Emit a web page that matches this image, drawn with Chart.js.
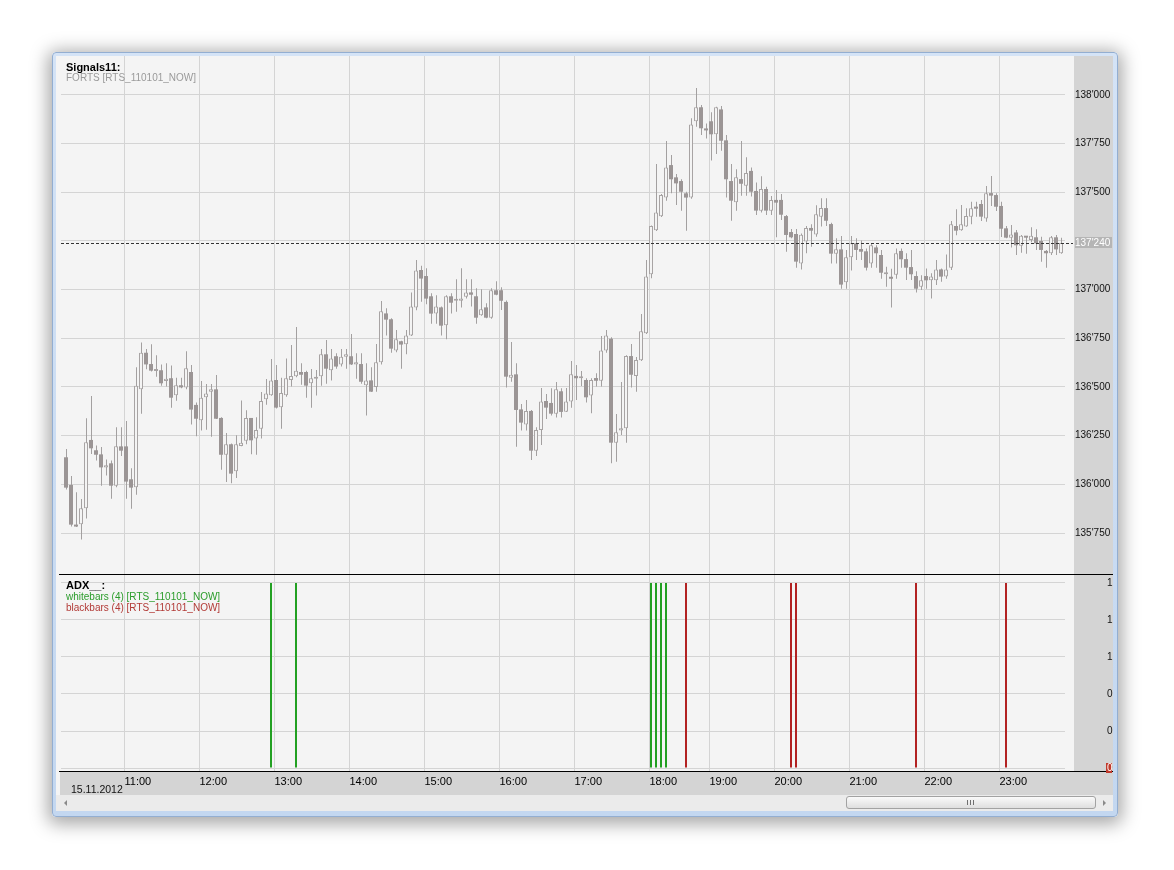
<!DOCTYPE html>
<html>
<head>
<meta charset="utf-8">
<title>Signals11</title>
<script src="https://cdn.jsdelivr.net/npm/chart.js@4.4.0/dist/chart.umd.min.js"></script>
<style>
  body { margin: 0; width: 1174px; height: 870px; background: #fff; position: relative; overflow: hidden;
         font-family: "Liberation Sans", Arial, sans-serif; }
  #frame { position: absolute; left: 52px; top: 52px; width: 1064px; height: 763px;
           border: 1px solid #93aed1; border-radius: 4px;
           background: linear-gradient(#d4e3f6, #c3d7f0);
           box-shadow: 0 3px 18px 4px rgba(0,0,0,.35); }
  #client { position: absolute; left: 56px; top: 56px; width: 1057px; height: 755px; background: #f4f4f4; }
  canvas { position: absolute; left: 56px; }
  #price { top: 56px; }
  #adx { top: 574px; }
  .t { position: absolute; left: 66px; white-space: nowrap; line-height: 1.2; }
  .bold { font-weight: bold; font-size: 11px; color: #000; }
  .small { font-size: 10px; }
  #scroll { position: absolute; left: 56px; top: 795px; width: 1057px; height: 16px; background: #ebebeb; }
  #thumb { position: absolute; left: 790px; top: 1px; width: 248px; height: 11px; border: 1px solid #a2a2a2;
           border-radius: 3px; background: linear-gradient(#fafafa, #dedede); }
  #grip { position: absolute; left: 120px; top: 3px; width: 8px; height: 5px;
          background: repeating-linear-gradient(90deg, #6f6f6f 0 1px, transparent 1px 3px); }
  #la { position: absolute; left: 8px; top: 5px; width: 0; height: 0;
        border-top: 3px solid transparent; border-bottom: 3px solid transparent; border-right: 3px solid #8a8a8a; }
  #ra { position: absolute; left: 1047px; top: 5px; width: 0; height: 0;
        border-top: 3px solid transparent; border-bottom: 3px solid transparent; border-left: 3px solid #8a8a8a; }
</style>
</head>
<body>
<div id="frame"></div>
<div id="client"></div>
<canvas id="price" width="1057" height="518"></canvas>
<canvas id="adx" width="1057" height="221"></canvas>

<div class="t bold" style="top:61px">Signals11:</div>
<div class="t small" style="top:72px;color:#9a9a9a">FORTS [RTS_110101_NOW]</div>
<div class="t bold" style="top:579px">ADX__:</div>
<div class="t small" style="top:591px;color:#2a9c2a">whitebars (4) [RTS_110101_NOW]</div>
<div class="t small" style="top:602px;color:#b23a36">blackbars (4) [RTS_110101_NOW]</div>
<div class="t" style="top:783px;left:71px;font-size:10.5px;color:#111">15.11.2012</div>

<div id="scroll">
  <div id="la"></div>
  <div id="thumb"><div id="grip"></div></div>
  <div id="ra"></div>
</div>

<script>
// 4-minute bars, RTS futures, 15.11.2012
const openPrices = [
  136139, 135997, 135788, 135795, 135877, 136228, 136175, 136154, 136087, 136108,
  135993, 136195, 136195, 136026, 135985, 136488, 136676, 136618, 136582, 136586,
  136531, 136545, 136457, 136509, 136498, 136577, 136408, 136329, 136447, 136476,
  136488, 136341, 136152, 136206, 136067, 136197, 136224, 136341, 136236, 136286,
  136437, 136457, 136536, 136396, 136457, 136536, 136555, 136577, 136577, 136519,
  136543, 136555, 136668, 136586, 136658, 136616, 136656, 136658, 136615, 136618,
  136509, 136534, 136500, 136627, 136878, 136848, 136688, 136735, 136719, 136765,
  136908, 137101, 137070, 136966, 136878, 136909, 136817, 136966, 136943, 136943,
  136964, 136986, 136966, 136868, 136909, 136856, 136997, 136997, 136937, 136548,
  136565, 136385, 136308, 136377, 136173, 136279, 136428, 136418, 136363, 136478,
  136373, 136426, 136557, 136545, 136536, 136456, 136546, 136532, 136688, 136748,
  136214, 136276, 136288, 136659, 136557, 136637, 136776, 137079, 137305, 137377,
  137474, 137640, 137577, 137558, 137495, 137473, 137865, 137937, 137822, 137865,
  137798, 137926, 137767, 137558, 137449, 137568, 137534, 137610, 137507, 137406,
  137517, 137406, 137461, 137461, 137378, 137296, 137286, 137135, 137247, 137317,
  137284, 137375, 137419, 137337, 137185, 137207, 137038, 137166, 137238, 137209,
  137197, 137135, 137217, 137178, 137079, 137060, 137077, 137199, 137157, 137116,
  137070, 137015, 137070, 137048, 137048, 137104, 137067, 137113, 137327, 137305,
  137325, 137375, 137426, 137440, 137366, 137496, 137486, 137430, 137315, 137267,
  137294, 137226, 137270, 137255, 137269, 137250, 137199, 137187, 137269, 137187
];
const highPrices = [
  136181, 136043, 135959, 135925, 136339, 136454, 136200, 136192, 136128, 136123,
  136293, 136293, 136325, 136082, 136601, 136729, 136695, 136719, 136663, 136615,
  136622, 136611, 136548, 136548, 136683, 136613, 136420, 136531, 136515, 136515,
  136562, 136345, 136264, 136210, 136252, 136431, 136380, 136341, 136344, 136474,
  136541, 136644, 136613, 136548, 136646, 136716, 136808, 136622, 136584, 136593,
  136587, 136695, 136741, 136695, 136673, 136695, 136695, 136772, 136673, 136673,
  136622, 136601, 136721, 136942, 136904, 136853, 136793, 136738, 136793, 136985,
  137152, 137123, 137110, 136981, 136971, 136913, 136971, 136981, 137053, 137110,
  137053, 137053, 137007, 137002, 136930, 137007, 137043, 137012, 136944, 136731,
  136622, 136413, 136433, 136382, 136293, 136495, 136464, 136493, 136526, 136493,
  136495, 136634, 136613, 136582, 136545, 136545, 136570, 136762, 136793, 136755,
  136361, 136526, 136663, 136721, 136654, 136875, 137152, 137330, 137646, 137491,
  137764, 137692, 137594, 137567, 137503, 137880, 138036, 137949, 137854, 137911,
  137940, 137943, 137794, 137646, 137618, 137764, 137680, 137628, 137551, 137582,
  137529, 137481, 137512, 137491, 137384, 137312, 137312, 137289, 137327, 137336,
  137433, 137469, 137469, 137344, 137264, 137276, 137204, 137276, 137264, 137252,
  137212, 137235, 137228, 137204, 137118, 137108, 137212, 137212, 137187, 137204,
  137094, 137074, 137109, 137084, 137152, 137109, 137181, 137353, 137413, 137435,
  137418, 137452, 137452, 137461, 137532, 137584, 137495, 137452, 137327, 137332,
  137306, 137281, 137272, 137320, 137310, 137272, 137204, 137276, 137281, 137267
];
const lowPrices = [
  135973, 135783, 135781, 135716, 135825, 136156, 136122, 135993, 136045, 135926,
  135985, 136146, 135926, 135875, 135947, 136363, 136591, 136580, 136553, 136507,
  136502, 136394, 136430, 136493, 136488, 136308, 136247, 136277, 136281, 136245,
  136335, 136075, 136012, 136005, 136033, 136195, 136206, 136154, 136152, 136236,
  136409, 136455, 136390, 136286, 136450, 136502, 136550, 136512, 136445, 136394,
  136456, 136507, 136517, 136534, 136594, 136605, 136594, 136613, 136543, 136517,
  136353, 136474, 136476, 136616, 136764, 136676, 136678, 136594, 136668, 136762,
  136894, 136938, 136925, 136825, 136825, 136764, 136745, 136878, 136887, 136909,
  136954, 136913, 136825, 136866, 136853, 136851, 136971, 136896, 136497, 136527,
  136193, 136276, 136276, 136125, 136145, 136202, 136336, 136353, 136343, 136343,
  136372, 136394, 136433, 136505, 136420, 136365, 136502, 136502, 136676, 136108,
  136116, 136253, 136214, 136498, 136476, 136634, 136772, 137058, 137301, 137373,
  137457, 137495, 137435, 137406, 137303, 137467, 137837, 137795, 137777, 137663,
  137697, 137714, 137473, 137354, 137406, 137483, 137483, 137478, 137384, 137396,
  137384, 137384, 137269, 137358, 137195, 137264, 137113, 137104, 137187, 137221,
  137272, 137324, 137327, 137134, 137134, 137005, 137005, 137098, 137152, 137152,
  137098, 137113, 137113, 137056, 137015, 136909, 137056, 137113, 137050, 137050,
  136986, 136998, 137005, 136954, 137024, 137041, 137056, 137101, 137279, 137303,
  137323, 137336, 137375, 137353, 137349, 137430, 137404, 137270, 137264, 137216,
  137178, 137190, 137185, 137243, 137204, 137144, 137113, 137178, 137178, 137185
];
const closePrices = [
  135983, 135793, 135783, 135877, 136216, 136185, 136152, 136087, 136098, 135993,
  136195, 136173, 136014, 135983, 136507, 136676, 136616, 136584, 136586, 136519,
  136543, 136445, 136509, 136498, 136596, 136384, 136337, 136445, 136466, 136488,
  136337, 136152, 136206, 136055, 136206, 136214, 136341, 136226, 136279, 136428,
  136467, 136534, 136394, 136469, 136545, 136557, 136584, 136563, 136507, 136545,
  136547, 136668, 136594, 136647, 136605, 136656, 136668, 136616, 136627, 136527,
  136534, 136476, 136627, 136889, 136846, 136697, 136745, 136718, 136765, 136914,
  137099, 137057, 136954, 136877, 136914, 136815, 136966, 136933, 136947, 136955,
  136986, 136974, 136856, 136899, 136856, 136997, 136974, 136943, 136553, 136563,
  136382, 136317, 136377, 136173, 136279, 136426, 136394, 136363, 136488, 136372,
  136426, 136565, 136545, 136555, 136447, 136536, 136532, 136688, 136765, 136214,
  136267, 136288, 136659, 136563, 136639, 136786, 137067, 137327, 137397, 137486,
  137628, 137567, 137546, 137503, 137473, 137849, 137937, 137829, 137818, 137798,
  137937, 137765, 137567, 137457, 137577, 137544, 137599, 137503, 137406, 137517,
  137406, 137461, 137447, 137385, 137281, 137269, 137144, 137282, 137317, 137303,
  137387, 137419, 137354, 137185, 137207, 137026, 137166, 137238, 137204, 137195,
  137113, 137228, 137187, 137087, 137089, 137056, 137187, 137156, 137113, 137079,
  137005, 137048, 137048, 137068, 137104, 137067, 137104, 137336, 137303, 137336,
  137378, 137418, 137416, 137375, 137495, 137483, 137426, 137313, 137267, 137284,
  137228, 137277, 137267, 137277, 137238, 137204, 137187, 137269, 137207, 137240
];

// bar number where each hour starts, and its label
const hourBars = [12, 27, 42, 57, 72, 87, 102, 117, 129, 142, 157, 172, 187];
const hourLabels = ['11:00', '12:00', '13:00', '14:00', '15:00', '16:00', '17:00',
                    '18:00', '19:00', '20:00', '21:00', '22:00', '23:00'];
const priceTicks = [135750, 136000, 136250, 136500, 136750, 137000, 137250, 137500, 137750, 138000];

// ADX panel: bars where the 4-bar signals fired
const adxTicks = [0, 0.2, 0.4, 0.6, 0.8, 1];
const adxTickLabels = ['0', '0', '0', '1', '1', '1'];
const whiteSignalBars = [41, 46, 117, 118, 119, 120];
const blackSignalBars = [124, 145, 146, 170, 188];

const FONT = '"Liberation Sans", Arial, sans-serif';
const GRID = '#d4d4d4';
Chart.defaults.font.family = FONT;

const fmtPrice = v => String(v).replace(/\B(?=(\d{3})+(?!\d))/g, "'");

// no extra room around the plot for tick labels
const noPad = s => { s.paddingTop = 0; s.paddingBottom = 0; s.paddingLeft = 0; s.paddingRight = 0; };

// build candle parts
const upBodies = [], downBodies = [], wicks = [];
openPrices.forEach((o, i) => {
  const c = closePrices[i];
  wicks.push({ x: i, y: [lowPrices[i], highPrices[i]] });
  (c >= o ? upBodies : downBodies).push({ x: i, y: [o, c] });
});

function timeAxis(showLabels) {
  return {
    type: 'linear', min: -1, max: 199.8, offset: false,
    grid: { color: GRID, drawTicks: false, offset: false },
    border: { display: false },
    ticks: {
      display: showLabels, autoSkip: false, maxRotation: 0, minRotation: 0,
      align: 'start', padding: 4, color: '#000', font: { size: 11 },
      callback: (v, i) => hourLabels[i]
    },
    afterBuildTicks: s => { s.ticks = hourBars.map(b => ({ value: b - 0.3 })); },
    afterFit: s => { s.height = showLabels ? 24 : 0; noPad(s); }
  };
}

function sideAxis(min, max, labelOffset, ticks, labelFn) {
  return {
    position: 'right', min: min, max: max,
    grid: { color: GRID, drawTicks: true, tickLength: labelOffset, tickColor: 'rgba(0,0,0,0)' },
    border: { display: false },
    ticks: { padding: 0, color: '#111', font: { size: 10 }, callback: labelFn },
    afterBuildTicks: s => { s.ticks = ticks.map(v => ({ value: v })); },
    afterFit: s => { s.width = 48; noPad(s); }
  };
}

const panelBg = {
  id: 'panelBg',
  beforeDraw(chart, args, opts) {
    const { ctx, chartArea: a, width, height } = chart;
    ctx.save();
    ctx.fillStyle = '#f4f4f4';
    ctx.fillRect(0, 0, width, height);
    ctx.fillStyle = '#d4d4d4';
    ctx.fillRect(a.right + 9, 0, width - a.right - 9, height);
    if (opts.band) ctx.fillRect(4, a.bottom, width - 4, height - a.bottom);
    ctx.restore();
  },
  afterDraw(chart, args, opts) {
    if (!opts.band) return;
    const { ctx, chartArea: a, width } = chart;
    ctx.save();
    ctx.fillStyle = '#000';
    ctx.fillRect(3, 0, width - 3, 1);
    ctx.fillRect(3, a.bottom, width - 3, 1);
    // current indicator value marker
    const py = Math.round(chart.scales.y.getPixelForValue(0));
    ctx.fillStyle = '#c0392b';
    ctx.fillRect(a.right + 41, py - 5, 6, 10);
    ctx.fillStyle = '#fff';
    ctx.font = '10px ' + FONT;
    ctx.textBaseline = 'middle';
    ctx.fillText('0', a.right + 42, py);
    ctx.restore();
  }
};

const lastPrice = {
  id: 'lastPrice',
  afterDraw(chart) {
    const { ctx, chartArea: a, scales: { y } } = chart;
    const last = closePrices[closePrices.length - 1];
    const py = Math.round(y.getPixelForValue(last)) + 0.5;
    ctx.save();
    ctx.strokeStyle = '#333';
    ctx.lineWidth = 1;
    ctx.setLineDash([3, 2]);
    ctx.beginPath();
    ctx.moveTo(a.left, py);
    ctx.lineTo(a.right + 8, py);
    ctx.stroke();
    ctx.fillStyle = '#b5b5b5';
    ctx.fillRect(a.right + 10, py - 6.5, 37, 11);
    ctx.fillStyle = '#fff';
    ctx.font = '10px ' + FONT;
    ctx.textBaseline = 'middle';
    ctx.fillText(fmtPrice(last), a.right + 10, py);
    ctx.restore();
  }
};

new Chart(document.getElementById('price'), {
  type: 'bar',
  data: {
    datasets: [
      { data: upBodies, backgroundColor: '#f4f4f4', borderColor: '#a8a4a4', borderWidth: 1,
        borderSkipped: false, barThickness: 4, minBarLength: 2, grouped: false, inflateAmount: 0 },
      { data: downBodies, backgroundColor: '#9b9595', borderWidth: 0,
        barThickness: 4, minBarLength: 2, grouped: false, inflateAmount: 0 },
      { data: wicks, xAxisID: 'xw', backgroundColor: '#a3a0a0', borderWidth: 0,
        barThickness: 1, grouped: false, inflateAmount: 0 }
    ]
  },
  options: {
    responsive: false, animation: false, devicePixelRatio: 1,
    layout: { padding: { left: 5, top: 0, right: 0, bottom: 0 }, autoPadding: false },
    plugins: { legend: { display: false }, tooltip: { enabled: false }, panelBg: { band: false } },
    scales: {
      x: timeAxis(false),
      xw: { type: 'linear', display: false, min: -1.1, max: 199.7, offset: false },
      y: sideAxis(135539.4, 138200.3, 10, priceTicks,
        v => Math.abs(v - closePrices[closePrices.length - 1]) < 60 ? '' : fmtPrice(v))
    }
  },
  plugins: [panelBg, lastPrice]
});

new Chart(document.getElementById('adx'), {
  type: 'bar',
  data: {
    datasets: [
      { data: whiteSignalBars.map(i => ({ x: i, y: [0, 1] })), backgroundColor: '#22a022',
        borderWidth: 0, barThickness: 2, grouped: false, inflateAmount: 0 },
      { data: blackSignalBars.map(i => ({ x: i, y: [0, 1] })), backgroundColor: '#b22222',
        borderWidth: 0, barThickness: 2, grouped: false, inflateAmount: 0 }
    ]
  },
  options: {
    responsive: false, animation: false, devicePixelRatio: 1,
    layout: { padding: { left: 5, top: 1, right: 0, bottom: 0 }, autoPadding: false },
    plugins: { legend: { display: false }, tooltip: { enabled: false }, panelBg: { band: true } },
    scales: {
      x: timeAxis(true),
      y: sideAxis(-0.0162, 1.0432, 42, adxTicks, (v, i) => adxTickLabels[i])
    }
  },
  plugins: [panelBg]
});
</script>
</body>
</html>
